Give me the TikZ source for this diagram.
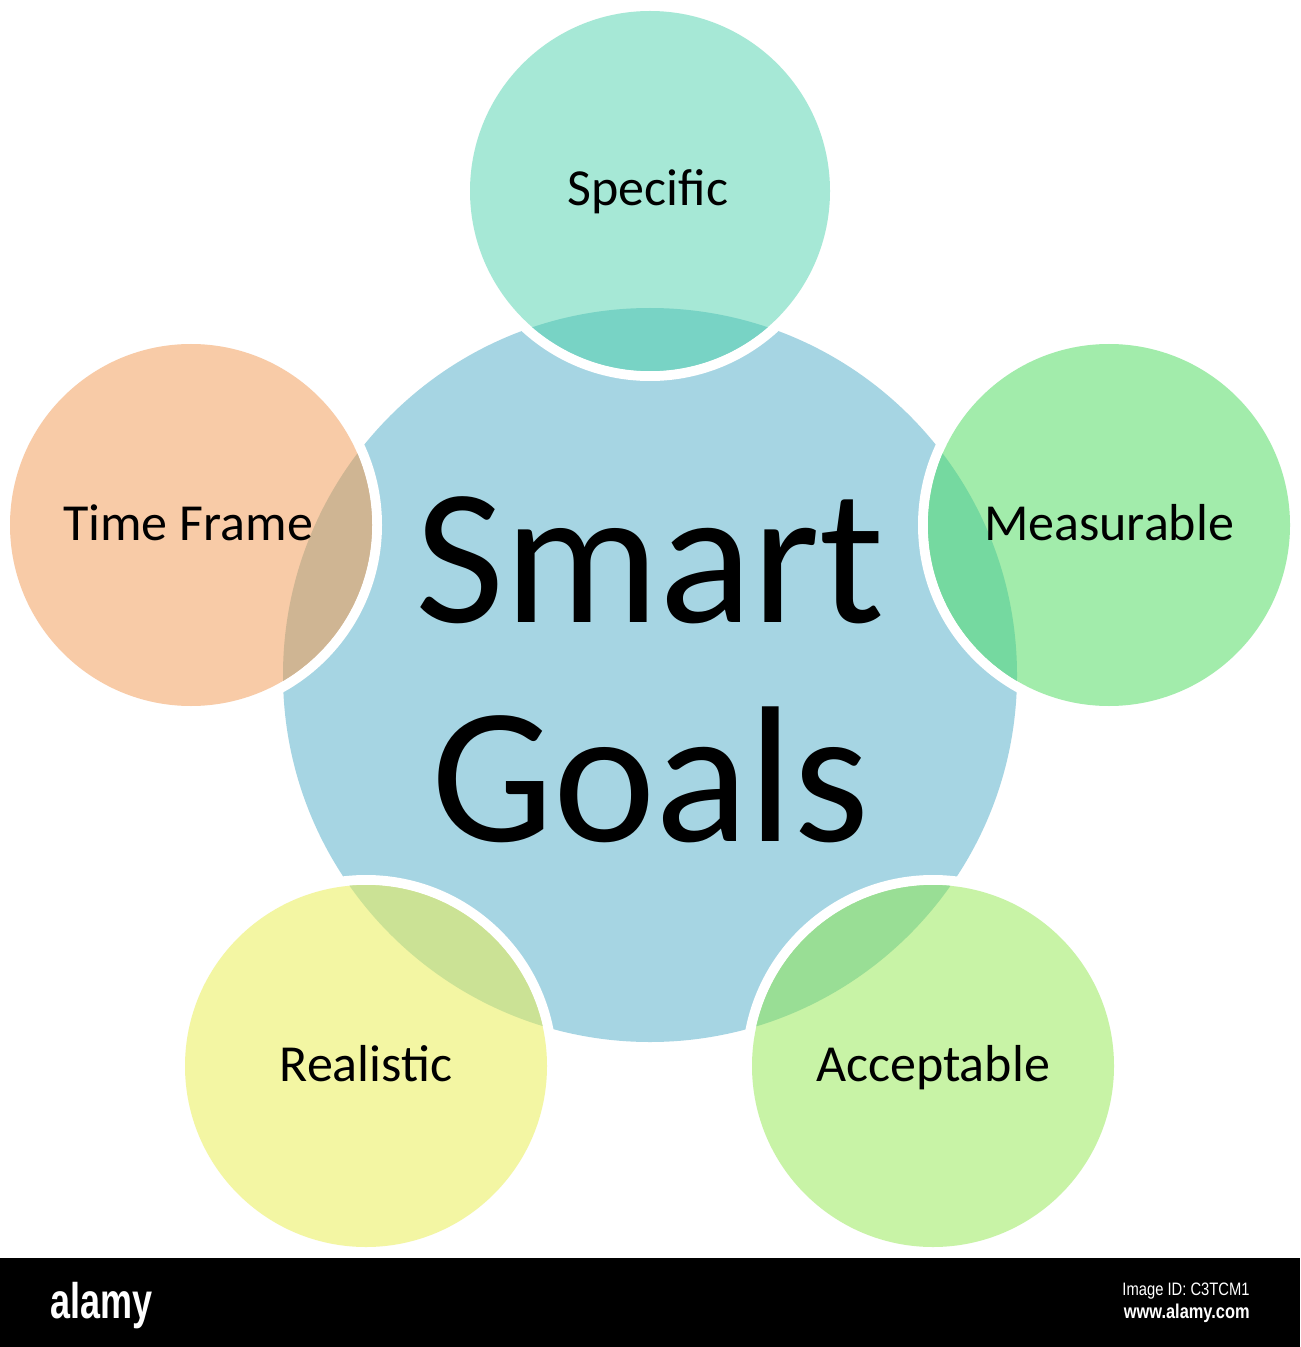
\documentclass[tikz,border=0pt]{standalone}
\usepackage{fontspec}
\setmainfont{Carlito}
\newfontfamily\logofont[FakeStretch=0.72]{Liberation Sans}
\newfontfamily\idfont[FakeStretch=0.82]{Liberation Sans}
\definecolor{cen}{HTML}{A6D5E3}
\definecolor{specC}{HTML}{A6E8D6}
\definecolor{specO}{HTML}{78D3C5}
\definecolor{timeC}{HTML}{F8CBA7}
\definecolor{timeO}{HTML}{CFB593}
\definecolor{measC}{HTML}{A2ECAB}
\definecolor{measO}{HTML}{75D9A0}
\definecolor{realC}{HTML}{F3F6A3}
\definecolor{realO}{HTML}{CBE295}
\definecolor{accC}{HTML}{C8F3A6}
\definecolor{accO}{HTML}{99DE95}
\newcommand\mypetal[5]{%
  \draw[white, line width=5pt] (#1,#2) circle[radius=#3+5];
  \fill[#4] (#1,#2) circle[radius=#3];
  \begin{scope}
    \clip (650,675) circle[radius=367];
    \fill[#5] (#1,#2) circle[radius=#3];
  \end{scope}}
\tikzset{
  lbl/.style={anchor=base, inner sep=0pt, text=black, font=\fontsize{26}{31}\selectfont},
  bigtxt/.style={anchor=base, inner sep=0pt, text=black, font=\fontsize{97}{112}\selectfont},
}
\begin{document}
\begin{tikzpicture}[x=0.5pt,y=-0.5pt]
\useasboundingbox (0,0) rectangle (1300,1347);
\fill[white] (0,0) rectangle (1300,1347);
\fill[black] (0,1258) rectangle (1300,1347);
% central circle
\fill[cen] (650,675) circle[radius=367];
% petals
\mypetal{650}{191}{180}{specC}{specO}
\mypetal{191}{525}{181}{timeC}{timeO}
\mypetal{1109}{525}{181}{measC}{measO}
\mypetal{366}{1066}{181}{realC}{realO}
\mypetal{933}{1066}{181}{accC}{accO}
% labels
\node[lbl] (spec) at (648,206) {Specific};
\node[lbl] (time) at (188,540) {Time Frame};
\node[lbl] (meas) at (1109,540) {Measurable};
\node[lbl] (real) at (366,1081) {Realistic};
\node[lbl] (acc) at (933,1081) {Acceptable};
\node[bigtxt] (smart) at (650,622) {Smart};
\node[bigtxt] (goals) at (650,841) {Goals};
% bottom bar
\node[anchor=base west, inner sep=0pt, text=white, font=\logofont\bfseries\fontsize{25}{30}\selectfont] (logo) at (50,1318) {alamy};
\node[anchor=base east, inner sep=0pt, text=white, font=\idfont\fontsize{9}{11}\selectfont] (imgid) at (1250,1295) {Image ID: C3TCM1};
\node[anchor=base east, inner sep=0pt, text=white, font=\idfont\bfseries\fontsize{10}{12}\selectfont] (www) at (1250,1318) {www.alamy.com};
\end{tikzpicture}
\end{document}
